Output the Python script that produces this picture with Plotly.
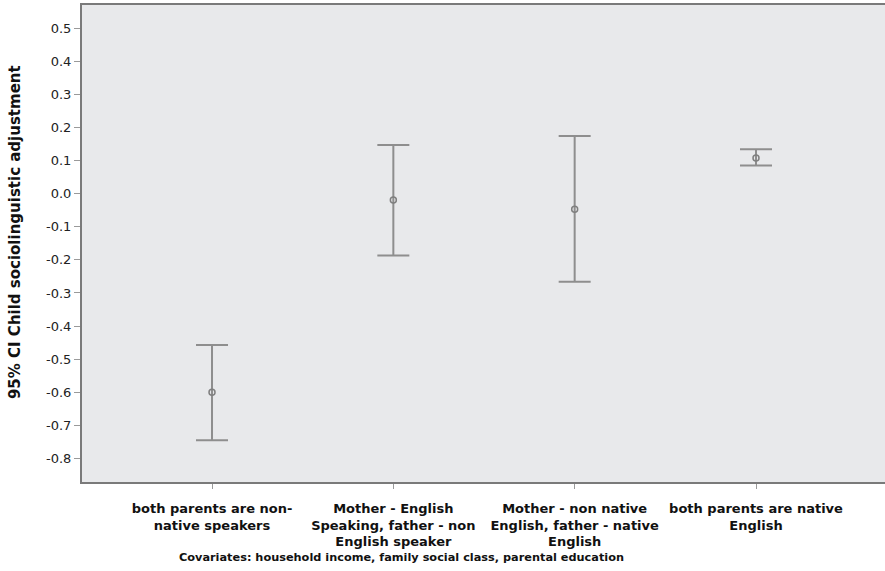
import plotly.graph_objects as go

categories = [
    "both parents are non-<br>native speakers",
    "Mother - English<br>Speaking, father - non<br>English speaker",
    "Mother - non native<br>English, father - native<br>English",
    "both parents are native<br>English",
]
means = [-0.600, -0.019, -0.047, 0.108]
upper = [-0.457, 0.147, 0.174, 0.134]
lower = [-0.745, -0.187, -0.266, 0.085]
y_ticks = [0.5, 0.4, 0.3, 0.2, 0.1, 0.0, -0.1, -0.2, -0.3, -0.4, -0.5, -0.6, -0.7, -0.8]

xpos = list(range(len(categories)))
err_plus = [u - m for u, m in zip(upper, means)]
err_minus = [m - l for m, l in zip(means, lower)]

FONT = "DejaVu Sans, Arial, sans-serif"

fig = go.Figure()
fig.add_trace(go.Scatter(
    x=xpos, y=means, mode="markers",
    marker=dict(symbol="circle-open", size=6, color="#7f7f7f", line=dict(width=1.5, color="#7f7f7f")),
    error_y=dict(type="data", symmetric=False, array=err_plus, arrayminus=err_minus,
                 color="#8e8e8e", thickness=2, width=16),
    showlegend=False, hoverinfo="skip",
))

fig.update_layout(
    width=892, height=571,
    margin=dict(l=82, r=0, t=5, b=89),
    paper_bgcolor="white", plot_bgcolor="#e8e9eb",
    font=dict(family=FONT, color="#1a1a1a"),
    xaxis=dict(
        range=[-0.717, 3.750], tickvals=xpos, ticktext=categories,
        showgrid=False, zeroline=False, showline=True, mirror=True,
        linecolor="#7a7a7a", linewidth=2,
        ticks="outside", ticklen=5, tickcolor="#9a9a9a", tickwidth=1,
        ticklabelstandoff=8,
        tickfont=dict(size=13, family=FONT, weight="bold", color="#111"),
    ),
    yaxis=dict(
        range=[-0.871, 0.570], tickvals=y_ticks,
        ticktext=[f"{v:.1f}" for v in y_ticks],
        showgrid=False, zeroline=False, showline=True, mirror=False,
        linecolor="#7a7a7a", linewidth=2,
        ticks="outside", ticklen=6, tickcolor="#9a9a9a", tickwidth=1,
        tickfont=dict(size=13, family=FONT, color="#222"),
    ),
)

fig.add_annotation(
    text="95% CI Child sociolinguistic adjustment",
    xref="paper", yref="paper", x=-0.0827, y=0.524, xanchor="center", yanchor="middle",
    textangle=-90, showarrow=False,
    font=dict(size=15, family=FONT, weight="bold", color="#111"),
)

fig.add_annotation(
    text="Covariates: household income, family social class, parental education",
    xref="paper", yref="paper", x=0.394, y=0, yshift=-75, yanchor="middle",
    showarrow=False, font=dict(size=11.3, family=FONT, weight="bold", color="#111"),
)

fig.write_html("out.html", config={"displayModeBar": False},
               post_script="document.body.style.margin='0px';document.body.style.overflow='hidden';document.documentElement.style.overflow='hidden';")
